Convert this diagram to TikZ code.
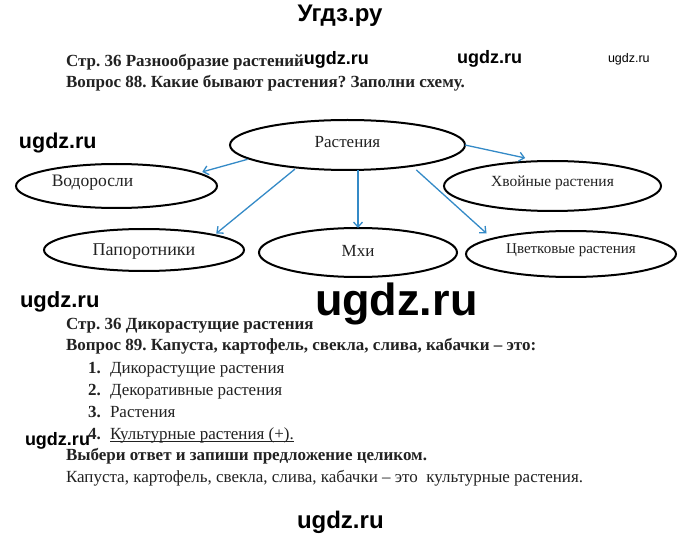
\documentclass[tikz,border=0pt]{standalone}
\usepackage{fontspec}
\setmainfont{Liberation Serif}
\newfontfamily\wmfont{Liberation Sans}
\usetikzlibrary{shapes.geometric,arrows.meta}
\definecolor{arrowblue}{RGB}{52,138,199}
\definecolor{inkgray}{RGB}{34,34,34}
\frenchspacing
\begin{document}
\begin{tikzpicture}[x=1pt,y=-1pt,
  every node/.style={inner sep=0pt, outer sep=0pt, text=inkgray},
  bub/.style={ellipse, draw=black, line width=2pt, inner sep=0pt},
  conn/.style={draw=arrowblue, line width=1.3pt, -{Straight Barb[length=5pt,width=9pt]}},
  hd/.style={anchor=base west, font=\bfseries\fontsize{17}{20}\selectfont},
  txt/.style={anchor=base west, font=\fontsize{17}{20}\selectfont},
  wm/.style={anchor=base west, text=black, font=\wmfont\bfseries\fontsize{#1}{#1}\selectfont},
]
\useasboundingbox (0,0) rectangle (680,540);
\fill[white] (0,0) rectangle (680,540);

% header
\node[anchor=base, text=black, font=\wmfont\bfseries\fontsize{24}{24}\selectfont] (site) at (340,22) {Угдз.ру};
\node[hd] (s1) at (66,67) {Стр. 36 Разнообразие растений};
\node[wm=18] (w1) at ([yshift=2pt]s1.base east) {ugdz.ru};
\node[wm=18] (w2) at (457,64) {ugdz.ru};
\node[anchor=base west, text=black, font=\wmfont\fontsize{12.5}{12.5}\selectfont] (w3) at (608,63) {ugdz.ru};
\node[hd] (q88) at (66,88) {Вопрос 88. Какие бывают растения? Заполни схему.};

% diagram
\node[bub, minimum width=235pt, minimum height=50pt, text height=12.1pt, text depth=7.9pt, font=\fontsize{17}{17}\selectfont] (root) at (347.5,145) {Растения};
\node[bub, minimum width=201pt, minimum height=44pt, text height=10.3pt, text depth=9.7pt, font=\fontsize{17.5}{17.5}\selectfont] (vod) at (116.5,186) {Водоросли\hspace*{48pt}};
\node[bub, minimum width=217pt, minimum height=50pt, text height=10.6pt, text depth=9.4pt, font=\fontsize{15.5}{15.5}\selectfont] (hv) at (552.5,186) {Хвойные растения};
\node[bub, minimum width=200pt, minimum height=42pt, text height=15.4pt, text depth=4.6pt, font=\fontsize{18}{18}\selectfont] (pap) at (144,250) {Папоротники};
\node[bub, minimum width=198pt, minimum height=49pt, text height=13.6pt, text depth=6.4pt, font=\fontsize{17}{17}\selectfont] (mhi) at (358,252.5) {Мхи};
\node[bub, minimum width=210pt, minimum height=46pt, text height=9.5pt, text depth=10.5pt, font=\fontsize{15}{15}\selectfont] (cv) at (571,254) {Цветковые растения};

\draw[conn, shorten <=2pt, shorten >=4.5pt] (root.188.3) -- (vod.9.3);
\draw[conn, shorten >=15pt] (root.0) -- (hv.117.5);
\draw[conn, shorten <=2.5pt, shorten >=2.5pt] (root.204.8) -- (pap.12.1);
\draw[conn] (mhi.north |- root.south) -- (mhi.north);
\draw[conn, shorten <=6pt, shorten >=8pt] (root.-18.5) -- (cv.169.2);

\node[wm=21.5] (w4) at (19,149) {ugdz.ru};

% second question
\node[hd] (s2) at (66,329) {Стр. 36 Дикорастущие растения};
\node[wm=45] (w5) at (315,315) {ugdz.ru};
\node[wm=22] (w6) at (20,307) {ugdz.ru};
\node[hd] (q89) at (66,350) {Вопрос 89. Капуста, картофель, свекла, слива, кабачки – это:};
\node[hd] (n1) at (88,373) {1.};
\node[txt] (i1) at (110,373) {Дикорастущие растения};
\node[hd] (n2) at (88,395) {2.};
\node[txt] (i2) at (110,395) {Декоративные растения};
\node[hd] (n3) at (88,417) {3.};
\node[txt] (i3) at (110,417) {Растения};
\node[hd] (n4) at (88,439) {4.};
\node[txt] (i4) at (110,439) {Культурные растения (+).};
\draw[inkgray, line width=0.7pt] ([yshift=-2.5pt]i4.base west) -- ([yshift=-2.5pt]i4.base east);
\node[wm=18] (w7) at (25,445) {ugdz.ru};
\node[hd] (task) at (66,460) {Выбери ответ и запиши предложение целиком.};
\node[txt] (ans) at (66,482) {Капуста, картофель, свекла, слива, кабачки – это\ \ культурные растения.};
\node[wm=24] (w8) at (297,528) {ugdz.ru};
\end{tikzpicture}
\end{document}
